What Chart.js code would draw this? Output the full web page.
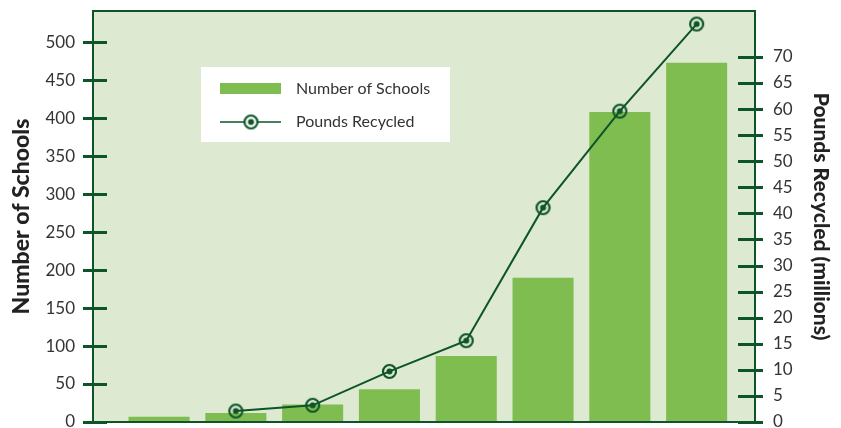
<!DOCTYPE html>
<html>
<head>
<meta charset="utf-8">
<script src="https://cdn.jsdelivr.net/npm/chart.js@4"></script>
<style>
  body { margin: 0; background: #fff; }
</style>
</head>
<body>
<canvas id="chart" width="841" height="428"></canvas>
<script>
// values
const barSlots = [1, 2, 3, 4, 5, 6, 7, 8];
const schools = [7, 12, 23, 43, 87, 190, 408, 473];
const pounds = [null, 2.1, 3.2, 9.7, 15.6, 41.1, 59.6, 76.3];
const schoolTicks = [0, 50, 100, 150, 200, 250, 300, 350, 400, 450, 500];
const poundTicks = [0, 5, 10, 15, 20, 25, 30, 35, 40, 45, 50, 55, 60, 65, 70];

const DARK = "#0d5428";
const BAR = "#80bd51";
const PANEL = "#dde9d1";
const FONT = "Lato, 'Open Sans', sans-serif";

// ring with a dot in the middle
const marker = document.createElement("canvas");
marker.width = 17;
marker.height = 17;
const mctx = marker.getContext("2d");
mctx.strokeStyle = DARK;
mctx.lineWidth = 2.2;
mctx.beginPath();
mctx.arc(8.5, 8.5, 6.5, 0, Math.PI * 2);
mctx.stroke();
mctx.fillStyle = DARK;
mctx.beginPath();
mctx.arc(8.5, 8.5, 3, 0, Math.PI * 2);
mctx.fill();

const panelPlugin = {
  id: "panel",
  beforeDatasetsDraw(chart) {
    const { ctx, chartArea: a } = chart;
    ctx.save();
    ctx.fillStyle = PANEL;
    ctx.fillRect(a.left, a.top, a.right - a.left, a.bottom - a.top);
    ctx.restore();
  },
  afterDraw(chart) {
    const { ctx, chartArea: a } = chart;
    ctx.save();
    // frame
    ctx.strokeStyle = DARK;
    ctx.lineWidth = 2;
    ctx.strokeRect(a.left, a.top, a.right - a.left, a.bottom - a.top);

    // tick marks crossing the axes
    ctx.lineWidth = 3;
    const yl = chart.scales.y;
    yl.ticks.forEach((t) => {
      const py = Math.round(yl.getPixelForValue(t.value)) + 0.5;
      ctx.beginPath();
      ctx.moveTo(a.left - 10, py);
      ctx.lineTo(a.left + 14, py);
      ctx.stroke();
    });
    const yr = chart.scales.y2;
    yr.ticks.forEach((t) => {
      const py = Math.round(yr.getPixelForValue(t.value)) + 0.5;
      ctx.beginPath();
      ctx.moveTo(a.right - 17, py);
      ctx.lineTo(a.right + 8, py);
      ctx.stroke();
    });

    // legend box
    ctx.fillStyle = "#ffffff";
    ctx.fillRect(201, 67, 249, 75);
    ctx.fillStyle = BAR;
    ctx.fillRect(220, 83, 61, 11);
    ctx.strokeStyle = DARK;
    ctx.lineWidth = 1.5;
    ctx.beginPath();
    ctx.moveTo(220, 122);
    ctx.lineTo(281, 122);
    ctx.stroke();
    ctx.fillStyle = "#ffffff";
    ctx.beginPath();
    ctx.arc(251, 122, 6, 0, Math.PI * 2);
    ctx.fill();
    ctx.drawImage(marker, 251 - 8.5, 122 - 8.5);
    ctx.fillStyle = "#333333";
    ctx.font = "16px " + FONT;
    ctx.textBaseline = "middle";
    ctx.fillText(chart.data.datasets[0].label, 296, 89);
    ctx.fillText(chart.data.datasets[1].label, 296, 122);
    ctx.restore();
  },
};

new Chart(document.getElementById("chart"), {
  type: "bar",
  data: {
    datasets: [
      {
        type: "bar",
        label: "Number of Schools",
        data: barSlots.map((x, i) => ({ x: x, y: schools[i] })),
        backgroundColor: BAR,
        yAxisID: "y",
        categoryPercentage: 1,
        barPercentage: 0.795,
        order: 1,
      },
      {
        type: "line",
        label: "Pounds Recycled",
        data: barSlots
          .map((x, i) => ({ x: x, y: pounds[i] }))
          .filter((p) => p.y !== null),
        borderColor: DARK,
        borderWidth: 2,
        pointStyle: marker,
        tension: 0,
        yAxisID: "y2",
        order: 0,
      },
    ],
  },
  options: {
    responsive: false,
    animation: false,
    layout: { padding: { top: 11, bottom: 6, left: 0, right: 0 } },
    plugins: {
      legend: { display: false },
      tooltip: { enabled: false },
    },
    scales: {
      x: {
        type: "linear",
        min: 0.14,
        max: 8.76,
        offset: false,
        display: false,
        afterBuildTicks: (axis) => {
          axis.ticks = barSlots.map((v) => ({ value: v }));
        },
      },
      y: {
        position: "left",
        min: 0,
        max: 541,
        afterBuildTicks: (axis) => {
          axis.ticks = schoolTicks.map((v) => ({ value: v }));
        },
        afterFit: (axis) => {
          axis.width = 93;
          axis.paddingTop = 0;
          axis.paddingBottom = 0;
        },
        grid: { display: false, drawTicks: false },
        border: { display: false },
        ticks: {
          padding: 18,
          color: "#333333",
          font: { family: FONT, size: 17 },
        },
        title: {
          display: true,
          text: "Number of Schools",
          color: "#222222",
          padding: { top: 8, bottom: 0 },
          font: { family: FONT, size: 23, weight: 900 },
        },
      },
      y2: {
        position: "right",
        min: 0,
        max: 78.8,
        afterBuildTicks: (axis) => {
          axis.ticks = poundTicks.map((v) => ({ value: v }));
        },
        afterFit: (axis) => {
          axis.width = 86;
          axis.paddingTop = 0;
          axis.paddingBottom = 0;
        },
        grid: { display: false, drawTicks: false },
        border: { display: false },
        ticks: {
          padding: 18,
          color: "#333333",
          font: { family: FONT, size: 17 },
        },
        title: {
          display: true,
          text: "Pounds Recycled (millions)",
          color: "#222222",
          padding: { top: 8, bottom: 0 },
          font: { family: FONT, size: 21, weight: 900 },
        },
      },
    },
  },
  plugins: [panelPlugin],
});
</script>
</body>
</html>
